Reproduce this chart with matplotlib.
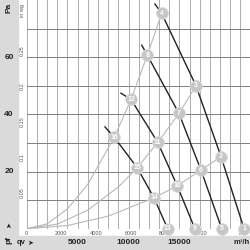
import matplotlib
matplotlib.use("Agg")
import matplotlib.pyplot as plt
from matplotlib.patches import Rectangle

plt.rcParams['font.family'] = ['Liberation Sans', 'DejaVu Sans']

# Kennlinien (qv in m³/h, pf in Pa)
fan_qv = [
    [12600, 13260, 16630, 19090, 21350],
    [11300, 11850, 14960, 17120, 19160],
    [9260, 10250, 12870, 14790, 16520],
    [7690, 8600, 10860, 12500, 13850],
]
fan_pa = [
    [78.6, 75.3, 50.0, 25.2, 0.0],
    [64.2, 60.7, 40.3, 20.5, 0.0],
    [47.4, 45.2, 30.2, 15.0, 0.0],
    [35.6, 32.0, 21.3, 10.8, 0.0],
]
fan_points = [["4", "3", "2", "1"], ["8", "7", "6", "5"],
              ["12", "11", "10", "9"], ["16", "15", "14", "13"]]

# Anlagenkennlinien
sys_qv = [
    [0, 2000, 4000, 6000, 8600, 10250, 11850, 13260],
    [0, 3000, 6000, 9000, 10860, 12870, 14960, 16630],
    [0, 4000, 8000, 12500, 14790, 17120, 19090],
]
sys_pa = [
    [0, 1.7, 6.9, 15.5, 32.0, 45.2, 60.7, 75.3],
    [0, 1.6, 6.5, 14.6, 21.3, 30.2, 40.3, 50.0],
    [0, 1.1, 4.4, 10.8, 15.0, 20.5, 25.2],
]

pa_labels = [20, 40, 60]
m3h_labels = [5000, 10000, 15000]
inwg_ticks = [0.05, 0.1, 0.15, 0.2, 0.25]
cfm_ticks = [0, 2000, 4000, 6000, 8000, 10000]

XMAX, YMAX = 21935, 80
PA_PER_INWG = 249.09
M3H_PER_CFM = 1.699

fig = plt.figure(figsize=(2.5, 2.5), dpi=100)
# graue Randbereiche
fig.patches.append(Rectangle((0, 0), 18 / 250, 1, transform=fig.transFigure,
                             color='#dadada', zorder=0))
fig.patches.append(Rectangle((0, 0), 1, 14 / 250, transform=fig.transFigure,
                             color='#dadada', zorder=0))

ax = fig.add_axes([26.7 / 250, 21.3 / 250, 1 - 26.7 / 250, 228.7 / 250])
ax.set_xlim(0, XMAX)
ax.set_ylim(0, YMAX)
ax.set_facecolor('none')
for s in ax.spines.values():
    s.set_visible(False)
ax.set_xticks([])
ax.set_yticks([])

# Gitter
for q in range(0, XMAX, 1000):
    ax.axvline(q, color='#a0a0a0', lw=0.6, zorder=1)
for p in range(0, YMAX, 10):
    ax.axhline(p, color='#808080', lw=0.7, zorder=1)

for q, p in zip(sys_qv, sys_pa):
    ax.plot(q, p, color='#b8b8b8', lw=0.8, zorder=2)

for q, p, labels in zip(fan_qv, fan_pa, fan_points):
    ax.plot(q, p, color='#222222', lw=1.0, zorder=3)
    for qq, pp, lab in zip(q[1:], p[1:], labels):
        ax.plot(qq, pp, 'o', ms=8.5, mfc='#c6c6c6', mec='#dcdcdc', mew=0.6,
                zorder=4, clip_on=False)
        ax.text(qq, pp, lab, fontsize=5, color='white', fontweight='bold',
                ha='center', va='center', zorder=5, clip_on=False)

# innere Skalen (in wg, cfm)
for v in inwg_ticks:
    ax.text(-0.018, v * PA_PER_INWG / YMAX, f"{v:g}", transform=ax.transAxes,
            rotation=90, fontsize=4, color='#555555', ha='center', va='center')
ax.text(-0.018, 0.955, "in wg", transform=ax.transAxes, rotation=90,
        fontsize=4, color='#555555', ha='center', va='center')
for c in cfm_ticks:
    ax.text(c * M3H_PER_CFM / XMAX, -0.019, f"{c}", transform=ax.transAxes,
            fontsize=4, color='#555555', ha='center', va='center')
ax.text(0.968, -0.019, "cfm", transform=ax.transAxes, fontsize=4,
        color='#555555', ha='center', va='center')

# äußere Skalen (Pa, m³/h)
for v in pa_labels:
    fig.text(9 / 250, (21.3 + v / YMAX * 228.7) / 250, str(v), fontsize=6,
             fontweight='bold', ha='center', va='center', color='#222222')
fig.text(9 / 250, 1 - 8 / 250, "Pa", fontsize=6, fontweight='bold',
         rotation=90, ha='center', va='center', color='#222222')
fig.text(9 / 250, 1 - 225 / 250, "➤", fontsize=5, rotation=90,
         ha='center', va='center', color='#222222', family='DejaVu Sans')
fig.text(9 / 250, 1 - 240 / 250, "pf", fontsize=6, fontweight='bold',
         rotation=90, ha='center', va='center', color='#222222')
for v in m3h_labels:
    fig.text((26.7 + v / XMAX * 223.3) / 250, 7 / 250, str(v), fontsize=6,
             fontweight='bold', ha='center', va='center', color='#222222')
fig.text(21 / 250, 7 / 250, "qv", fontsize=5.5, fontweight='bold',
         ha='center', va='center', color='#222222')
fig.text(30 / 250, 7 / 250, "➤", fontsize=5, ha='center', va='center',
         color='#222222', family='DejaVu Sans')
fig.text(242 / 250, 7 / 250, "m³/h", fontsize=5.5, fontweight='bold',
         ha='center', va='center', color='#222222')

fig.savefig("out.png", dpi=100)
